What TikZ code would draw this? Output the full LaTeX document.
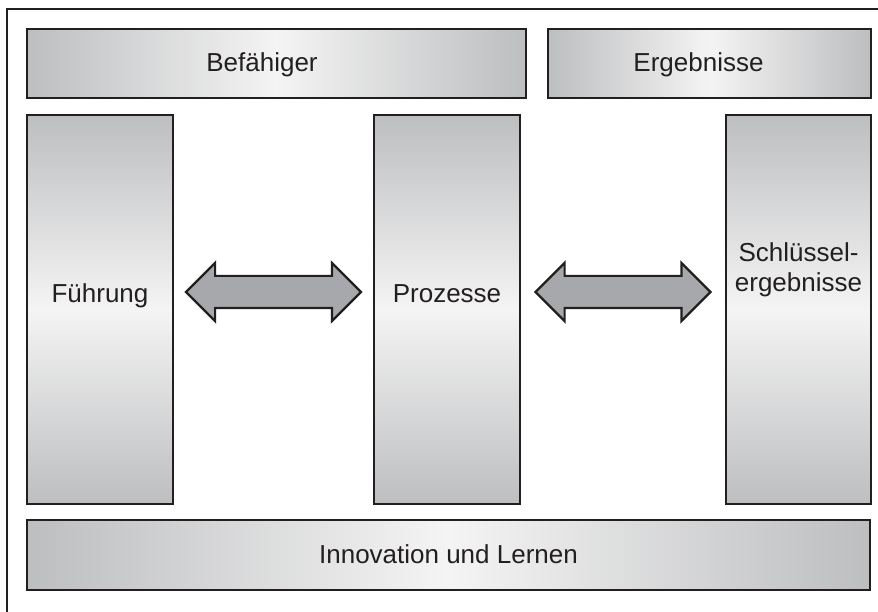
\documentclass[tikz,border=0pt]{standalone}
\usepackage{fontspec}
\setmainfont{Liberation Sans}
\usetikzlibrary{calc, shapes.arrows}

\definecolor{edge}{HTML}{231F20}
\definecolor{shadeout}{HTML}{BDBEC0}
\definecolor{shadein}{HTML}{F4F4F4}
\definecolor{arrowfill}{HTML}{A7A8AB}

\tikzset{
  panel/.style = {
    draw = edge,
    line width = 2.2pt,
    inner sep = 0pt,
  },
  bar/.style = {
    panel,
    left color = shadeout,
    right color = shadeout,
    middle color = shadein,
  },
  column/.style = {
    panel,
    top color = shadeout,
    bottom color = shadeout,
    middle color = shadein,
    minimum width = 146pt,
    minimum height = 389pt,
  },
  caption/.style = {
    anchor = base,
    inner sep = 0pt,
    text = edge,
    align = center,
    font = \fontsize{26}{31}\selectfont,
  },
  link/.style = {
    double arrow,
    draw = edge,
    fill = arrowfill,
    line width = 2.2pt,
    inner xsep = 0pt,
    inner ysep = 15pt,
    minimum width = 56pt,
    minimum height = 175pt,
    double arrow head extend = 13pt,
    double arrow tip angle = 90,
  },
}

\begin{document}
\begin{tikzpicture}[x = 1pt, y = -1pt]
  \useasboundingbox (0,0) rectangle (878,612);

  % frame, open to the right and to the bottom
  \draw [edge, line width = 2pt] (7,612) -- (7,9) -- (878,9);

  % headers
  \node [bar, minimum width = 499pt, minimum height = 69pt]
    (befaehiger) at (276.5,63.5) {};
  \node [bar, minimum width = 323pt, minimum height = 69pt]
    (ergebnisse) at (709.5,63.5) {};

  % columns
  \node [column] (fuehrung)   at (100,309.5)   {};
  \node [column] (prozesse)   at (447,309.5)   {};
  \node [column, minimum width = 145pt]
    (schluessel) at (798.5,309.5) {};

  % footer
  \node [bar, minimum width = 843pt, minimum height = 70pt]
    (innovation) at (448.5,555) {};

  % texts
  \node [caption] (befaehiger text) at ([xshift = -14.5pt, yshift = -8.5pt] befaehiger.center) {Befähiger};
  \node [caption] (ergebnisse text) at ([xshift = -11pt, yshift = -8.5pt] ergebnisse.center) {Ergebnisse};
  \node [caption] (fuehrung text)   at ([yshift = 7.5pt] fuehrung.center)   {Führung};
  \node [caption] (prozesse text)   at ([yshift = 7.5pt] prozesse.center)   {Prozesse};
  \node [caption] (schluessel text) at ([yshift = 17.5pt] schluessel.center) {Schlüssel-\\ergebnisse};
  \node [caption] (innovation text) at ([yshift = -8pt] innovation.center) {Innovation und Lernen};

  % block arrows between the columns
  \node [link, yshift = 17.5pt] (left link)
    at ($(fuehrung.east)!0.5!(prozesse.west)$) {};
  \node [link, yshift = 17.5pt] (right link)
    at ($(prozesse.east)!0.5!(schluessel.west)$) {};
\end{tikzpicture}
\end{document}
